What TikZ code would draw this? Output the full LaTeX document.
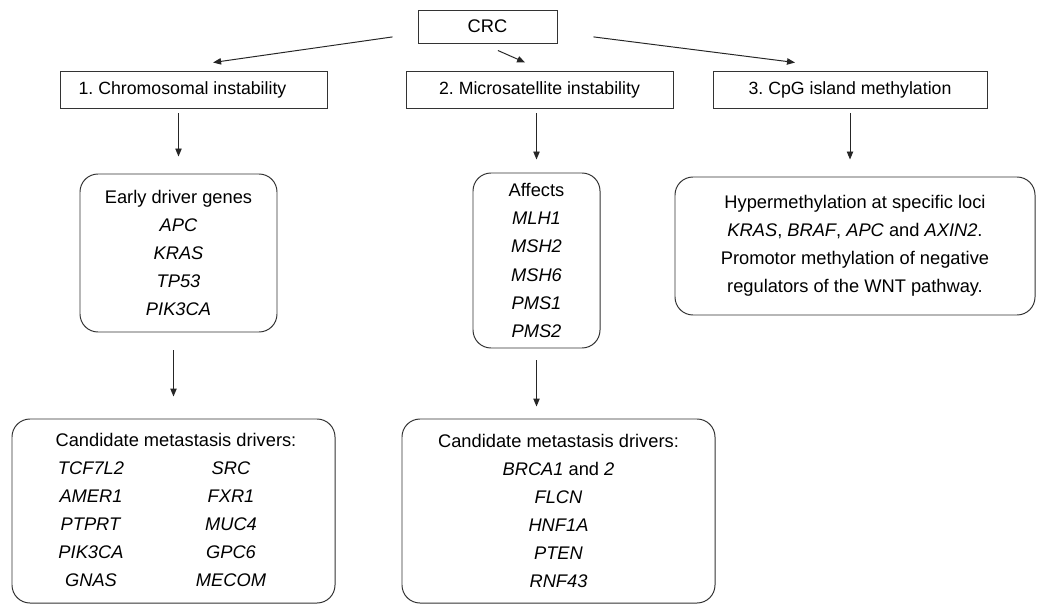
\documentclass[tikz,border=0pt]{standalone}
\usepackage{fontspec}
\setmainfont{Liberation Sans}
\frenchspacing
\usetikzlibrary{arrows.meta,positioning}

% one gene name in a fixed-width cell of the metastasis box
\newcommand{\genecell}[1]{\makebox[35mm]{\textit{#1}}}

\begin{document}
\begin{tikzpicture}[%
    x=0.25mm, y=-0.25mm,                   % one unit is one pixel of the sketch, y runs down
    >={Triangle[length=2mm,width=1.6mm]},  % small solid heads
    line width=0.7pt,
    ]
% -------------------------------------------------
% Box styles
\tikzset{
  base/.style={draw=black!80, align=center, inner sep=2pt,
    font=\fontsize{13}{20}\selectfont},
  head/.style={base, rectangle, minimum height=9.25mm,
    font=\fontsize{12.6}{15}\selectfont},
  gbox/.style={base, rounded corners=4.5mm},
  % connector line style
  norm/.style={->, draw=black!85},
}
\useasboundingbox (0,0) rectangle (1040,605);
% -------------------------------------------------
% The root and the three pathways
\node [head, minimum width=34.75mm, minimum height=8.25mm,
  font=\fontsize{13}{15}\selectfont] (crc) at (487.5,26.5) {CRC};
\node [head, minimum width=66.75mm] (cin) at (193.5,89.5)
  {1. Chromosomal instability\hspace*{5.5mm}};
\node [head, minimum width=66.75mm] (msi) at (539.5,89.5)
  {2. Microsatellite instability};
\node [head, minimum width=68.5mm] (cimp) at (850,89.5)
  {3. CpG island methylation};
% -------------------------------------------------
% Gene boxes below each pathway
\node [gbox, minimum width=49.25mm, minimum height=39.5mm] (early) at (178.5,253)
  {Early driver genes\\ \textit{APC}\\ \textit{KRAS}\\ \textit{TP53}\\ \textit{PIK3CA}};
\node [gbox, minimum width=31.75mm, minimum height=43.75mm] (affects) at (536.5,260.5)
  {Affects\\ \textit{MLH1}\\ \textit{MSH2}\\ \textit{MSH6}\\ \textit{PMS1}\\ \textit{PMS2}};
\node [gbox, minimum width=90mm, minimum height=34.5mm] (hyper) at (855,246)
  {Hypermethylation at specific loci\\
   \textit{KRAS}, \textit{BRAF}, \textit{APC} and \textit{AXIN2}.\\
   Promotor methylation of negative\\
   regulators of the WNT pathway.};
\node [gbox, minimum width=80.75mm, minimum height=46mm] (cand1) at (173.5,511)
  {\begin{tabular}{@{}c@{}c@{\hspace{6.25mm}}}
   \multicolumn{2}{@{}c@{\hspace{6.25mm}}}{\hspace*{7.5mm}Candidate metastasis drivers:}\\
   \genecell{TCF7L2} & \genecell{SRC}\\
   \genecell{AMER1}  & \genecell{FXR1}\\
   \genecell{PTPRT}  & \genecell{MUC4}\\
   \genecell{PIK3CA} & \genecell{GPC6}\\
   \genecell{GNAS}   & \genecell{MECOM}
   \end{tabular}};
\node [gbox, minimum width=78.25mm, minimum height=46mm] (cand2) at (558.5,511)
  {Candidate metastasis drivers:\\
   \textit{BRCA1} and \textit{2}\\ \textit{FLCN}\\ \textit{HNF1A}\\
   \textit{PTEN}\\ \textit{RNF43}};
% -------------------------------------------------
% Slanted arrows out of the root
\draw [norm] ([xshift=-6.25mm, yshift=-2.6mm]crc.west)
  -- ([xshift=4.9mm, yshift=2mm]cin.north);
\draw [norm] ([xshift=2.6mm, yshift=-1.75mm]crc.south)
  -- ([xshift=-3.6mm, yshift=2mm]msi.north);
\draw [norm] ([xshift=9mm, yshift=-2.6mm]crc.east)
  -- ([xshift=-13.75mm, yshift=2mm]cimp.north);
% -------------------------------------------------
% Straight arrows down each column
\draw [norm, shorten <=1.25mm, shorten >=4.25mm] (early.north |- cin.south) -- (early.north);
\draw [norm, shorten <=1.25mm, shorten >=3.25mm] (affects.north |- msi.south) -- (affects.north);
\draw [norm, shorten <=1.25mm, shorten >=4.25mm] (cimp.south) -- (cimp.south |- hyper.north);
\draw [norm, shorten <=4.5mm, shorten >=5.5mm] (cand1.north |- early.south) -- (cand1.north);
\draw [norm, shorten <=3mm, shorten >=3mm] (affects.south) -- (affects.south |- cand2.north);
\end{tikzpicture}
\end{document}
